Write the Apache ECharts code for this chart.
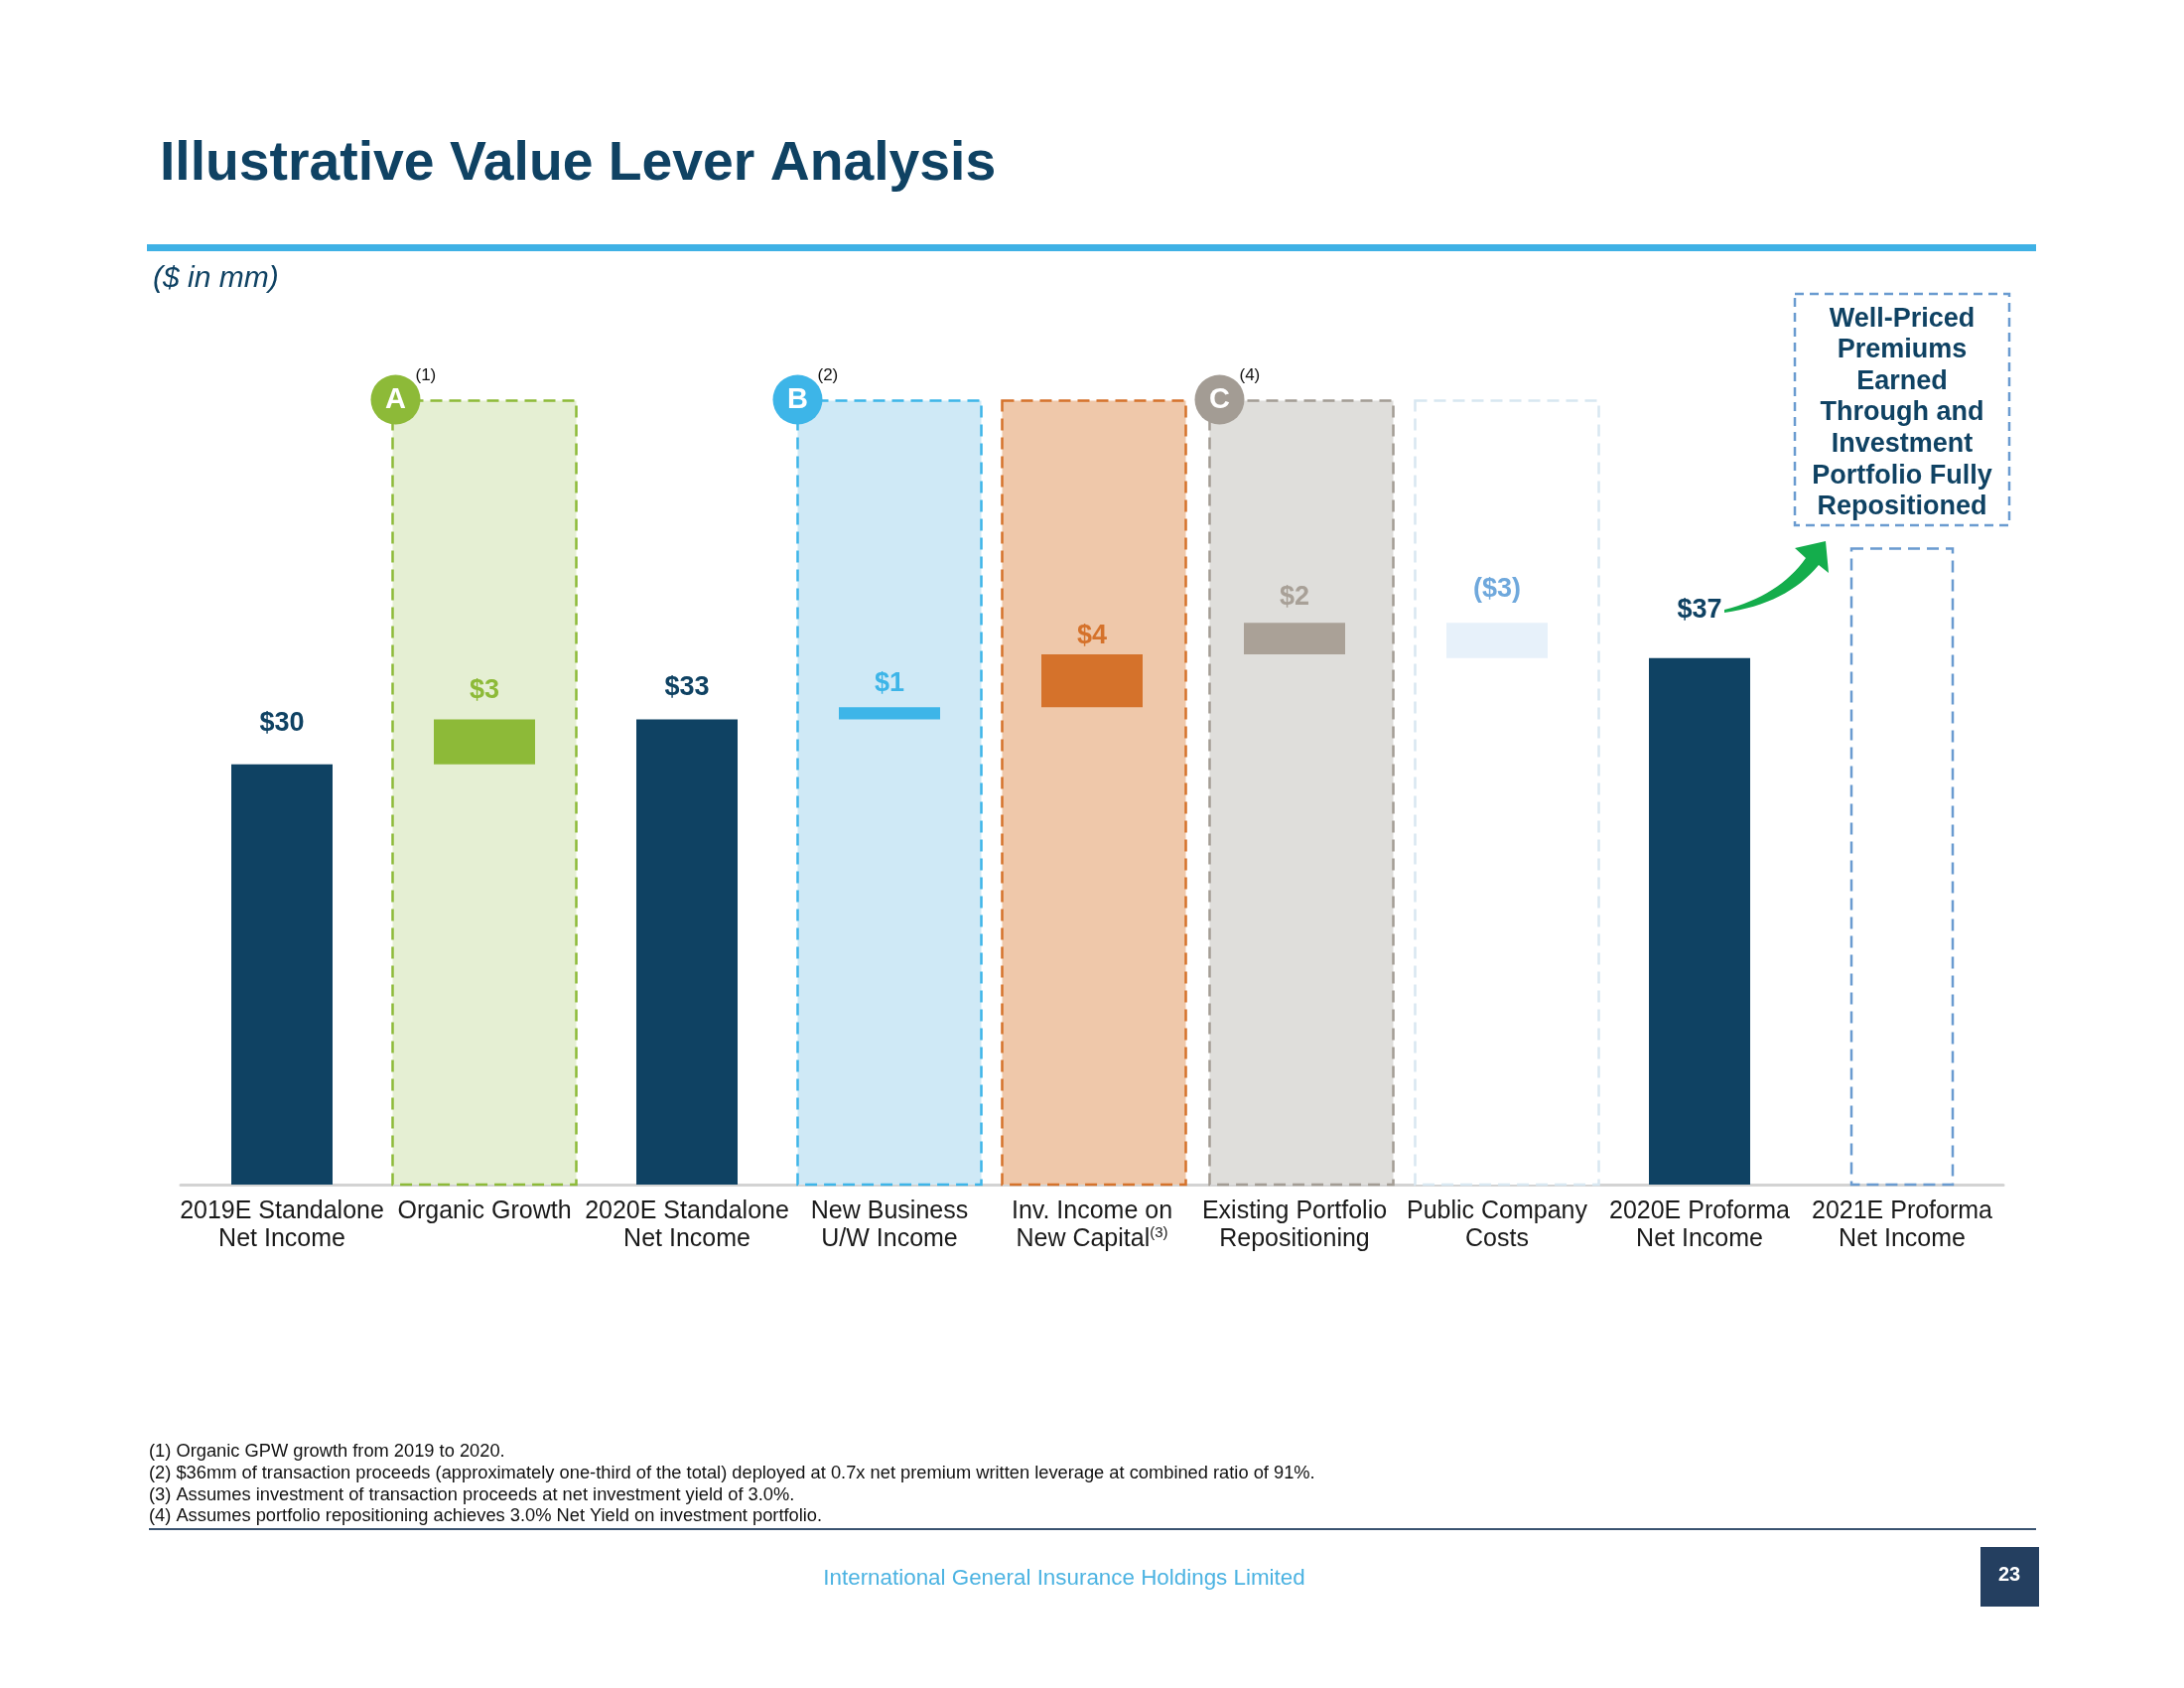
<!DOCTYPE html>
<html>
<head>
<meta charset="utf-8">
<script src="https://cdn.jsdelivr.net/npm/echarts@6/dist/echarts.min.js"></script>
<style>html,body{margin:0;padding:0;background:#fff}#c{width:2200px;height:1700px}</style>
</head>
<body>
<div id="c"></div>
<script>
// ---------------- DATA ----------------
const categories = [
  '2019E Standalone\nNet Income',
  'Organic Growth',
  '2020E Standalone\nNet Income',
  'New Business\nU/W Income',
  'Inv. Income on\nNew Capital',
  'Existing Portfolio\nRepositioning',
  'Public Company\nCosts',
  '2020E Proforma\nNet Income',
  '2021E Proforma\nNet Income'
];
const categoryNotes = ['', '', '', '', '(3)', '', '', '', ''];
// 'total' bars start at zero, 'delta' bars float from the running total
const stepTypes  = ['total', 'delta', 'total', 'delta', 'delta', 'delta', 'delta', 'total', 'none'];
const stepValues = [29.8, 3.2, 33.0, 0.85, 3.75, 2.25, -2.5, 37.35, null];
const valueLabels = ['$30', '$3', '$33', '$1', '$4', '$2', '($3)', '$37', ''];
const leverLetters = ['', 'A', '', 'B', '', 'C', '', '', ''];
const leverNotes   = ['', '(1)', '', '(2)', '', '(4)', '', '', ''];
const frameCats = [1, 3, 4, 5, 6, 8];
const frameTops = [55.6, 55.6, 55.6, 55.6, 55.6, 45.1];
const footnotes = [
  '(1) Organic GPW growth from 2019 to 2020.',
  '(2) $36mm of transaction proceeds (approximately one-third of the total) deployed at 0.7x net premium written leverage at combined ratio of 91%.',
  '(3) Assumes investment of transaction proceeds at net investment yield of 3.0%.',
  '(4) Assumes portfolio repositioning achieves 3.0% Net Yield on investment portfolio.'
];
const calloutLines = ['Well-Priced', 'Premiums', 'Earned', 'Through and', 'Investment', 'Portfolio Fully', 'Repositioned'];

// ---------------- STYLES ----------------
const NAVY = '#0f4263';
const barColors   = [NAVY, '#8dba38', NAVY, '#3db5e8', '#d5722b', '#aaa197', '#e7f1fa', NAVY, NAVY];
const labelColors = [NAVY, '#8dba38', NAVY, '#3db5e8', '#d5722b', '#a8a097', '#6fa8dc', NAVY, NAVY];
const labelGaps   = [28, 15, 18, 10, 5, 12, 20, 35, 0];
const frameStyle = {
  1: {fill: '#e5efd3', stroke: '#8dba38', w: 0.907, dx: 0, cdx: 3},
  3: {fill: '#cfe9f6', stroke: '#3db5e8', w: 0.907, dx: 0, cdx: 0},
  4: {fill: '#efc8aa', stroke: '#d5722b', w: 0.907, dx: 2},
  5: {fill: '#dfdedb', stroke: '#a39c94', w: 0.907, dx: 7, cdx: 10},
  6: {fill: '#ffffff', stroke: '#d8e7f1', w: 0.907, dx: 10},
  8: {fill: 'rgba(0,0,0,0)', stroke: '#6a9bd0', w: 0.5, dx: 0}
};
const letterColors = {1: '#8dba38', 3: '#3db5e8', 5: '#a39c94'};
const FONT = "'Liberation Sans', Arial, Helvetica, sans-serif";

// ---------------- BUILD WATERFALL ----------------
const baseData = [], barData = [];
let running = 0;
stepValues.forEach((v, i) => {
  const t = stepTypes[i];
  if (t === 'none' || v == null) { baseData.push(0); barData.push(null); return; }
  let base, h;
  if (t === 'total') { base = 0; h = v; running = v; }
  else {
    if (v >= 0) { base = running; h = v; }
    else { base = running + v; h = -v; }
    running += v;
  }
  baseData.push(base);
  barData.push({
    value: h,
    itemStyle: {color: barColors[i]},
    label: {show: true, position: 'top', distance: labelGaps[i], formatter: valueLabels[i],
            color: labelColors[i], fontSize: 27, fontWeight: 'bold', fontFamily: FONT}
  });
});

const frameData = frameCats.map((c, k) => [c, frameTops[k]]);

// curved arrow outline (decoration)
function quad(p0, c, p1, n) {
  const pts = [];
  for (let k = 0; k <= n; k++) {
    const t = k / n, a = (1 - t) * (1 - t), b = 2 * (1 - t) * t, d = t * t;
    pts.push([a * p0[0] + b * c[0] + d * p1[0], a * p0[1] + b * c[1] + d * p1[1]]);
  }
  return pts;
}
const arrowPts = [].concat(
  quad([1737, 614], [1792, 600], [1819, 562], 16),
  [[1808, 552], [1839, 545], [1842, 577]],
  quad([1832, 569], [1800, 608], [1737, 617], 16)
);

function txt(x, y, text, opts) {
  return {type: 'text', x: x, y: y, style: Object.assign({text: text, fontFamily: FONT}, opts)};
}

const graphics = [
  txt(161, 166, 'Illustrative Value Lever Analysis', {fill: NAVY, fontSize: 55.3, fontWeight: 'bold', verticalAlign: 'middle'}),
  {type: 'rect', shape: {x: 148, y: 246, width: 1903, height: 7}, style: {fill: '#3fb1e5'}},
  txt(154, 281, '($ in mm)', {fill: NAVY, fontSize: 30, fontStyle: 'italic', verticalAlign: 'middle'}),
  {type: 'rect', shape: {x: 1808, y: 296, width: 216, height: 233}, style: {fill: '#fff', stroke: '#6a9bd0', lineWidth: 2.5, lineDash: [9, 6]}},
  txt(1916, 416, calloutLines.join('\n'), {fill: NAVY, fontSize: 27, fontWeight: 'bold', lineHeight: 31.6, align: 'center', verticalAlign: 'middle'}),
  {type: 'polygon', shape: {points: arrowPts}, style: {fill: '#14ad4c'}},
  ...footnotes.map((t, i) => txt(150, 1462 + i * 21.8, t, {fill: '#111', fontSize: 18.3, verticalAlign: 'middle'})),
  {type: 'rect', shape: {x: 150, y: 1539, width: 1901, height: 2}, style: {fill: '#3a5370'}},
  txt(1072, 1590, 'International General Insurance Holdings Limited', {fill: '#4cb3e2', fontSize: 22.4, align: 'center', verticalAlign: 'middle'}),
  {type: 'rect', shape: {x: 1995, y: 1558, width: 59, height: 60}, style: {fill: '#243f60'}},
  txt(2024, 1586, '23', {fill: '#fff', fontSize: 20, fontWeight: 'bold', align: 'center', verticalAlign: 'middle'})
];

const chart = echarts.init(document.getElementById('c'), null, {renderer: 'canvas'});

chart.setOption({
  animation: false,
  backgroundColor: '#fff',
  textStyle: {fontFamily: FONT},
  grid: {left: 182, right: 182, top: 341, bottom: 507, containLabel: false},
  xAxis: {
    type: 'category', data: categories,
    axisLine: {lineStyle: {color: '#d3d3d3', width: 3}},
    axisTick: {show: false},
    axisLabel: {
      interval: 0, margin: 13, color: '#1a1a1a', fontSize: 25, lineHeight: 28, fontFamily: FONT,
      formatter: (val, idx) => categoryNotes[idx] ? val + '{sup|' + categoryNotes[idx] + '}' : val,
      rich: {sup: {fontSize: 15, padding: [0, 0, 12, 0], color: '#1a1a1a', fontFamily: FONT}}
    }
  },
  yAxis: {type: 'value', min: 0, max: 60, show: false, splitLine: {show: false}},
  series: [
    {
      type: 'custom', name: 'frames', z: 1, silent: true,
      data: frameData, encode: {x: 0, y: 1},
      renderItem: (params, api) => {
        const c = api.value(0), top = api.value(1);
        const st = frameStyle[c];
        const p0 = api.coord([c, 0]), p1 = api.coord([c, top]);
        const w = api.size([1, 0])[0] * st.w;
        const x0 = p0[0] - w / 2 + st.dx;
        const children = [{
          type: 'rect', shape: {x: x0, y: p1[1], width: w, height: p0[1] - p1[1]},
          style: {fill: st.fill, stroke: st.stroke, lineWidth: 2.5, lineDash: [12, 7]}
        }];
        if (leverLetters[c]) {
          const cx = x0 + st.cdx, cy = p1[1] - 1;
          children.push({type: 'circle', shape: {cx: cx, cy: cy, r: 25}, style: {fill: letterColors[c]}});
          children.push({type: 'text', style: {x: cx, y: cy + 1, text: leverLetters[c], fill: '#fff', fontSize: 29, fontWeight: 'bold', fontFamily: FONT, align: 'center', verticalAlign: 'middle'}});
          children.push({type: 'text', style: {x: cx + 20, y: cy - 24, text: leverNotes[c], fill: '#111', fontSize: 17, fontFamily: FONT, align: 'left', verticalAlign: 'middle'}});
        }
        return {type: 'group', children: children};
      }
    },
    {type: 'bar', name: 'base', stack: 'wf', barWidth: 102, z: 2, silent: true,
     itemStyle: {color: 'rgba(0,0,0,0)'}, data: baseData},
    {type: 'bar', name: 'value', stack: 'wf', barWidth: 102, z: 2, data: barData}
  ],
  graphic: graphics
});
</script>
</body>
</html>
